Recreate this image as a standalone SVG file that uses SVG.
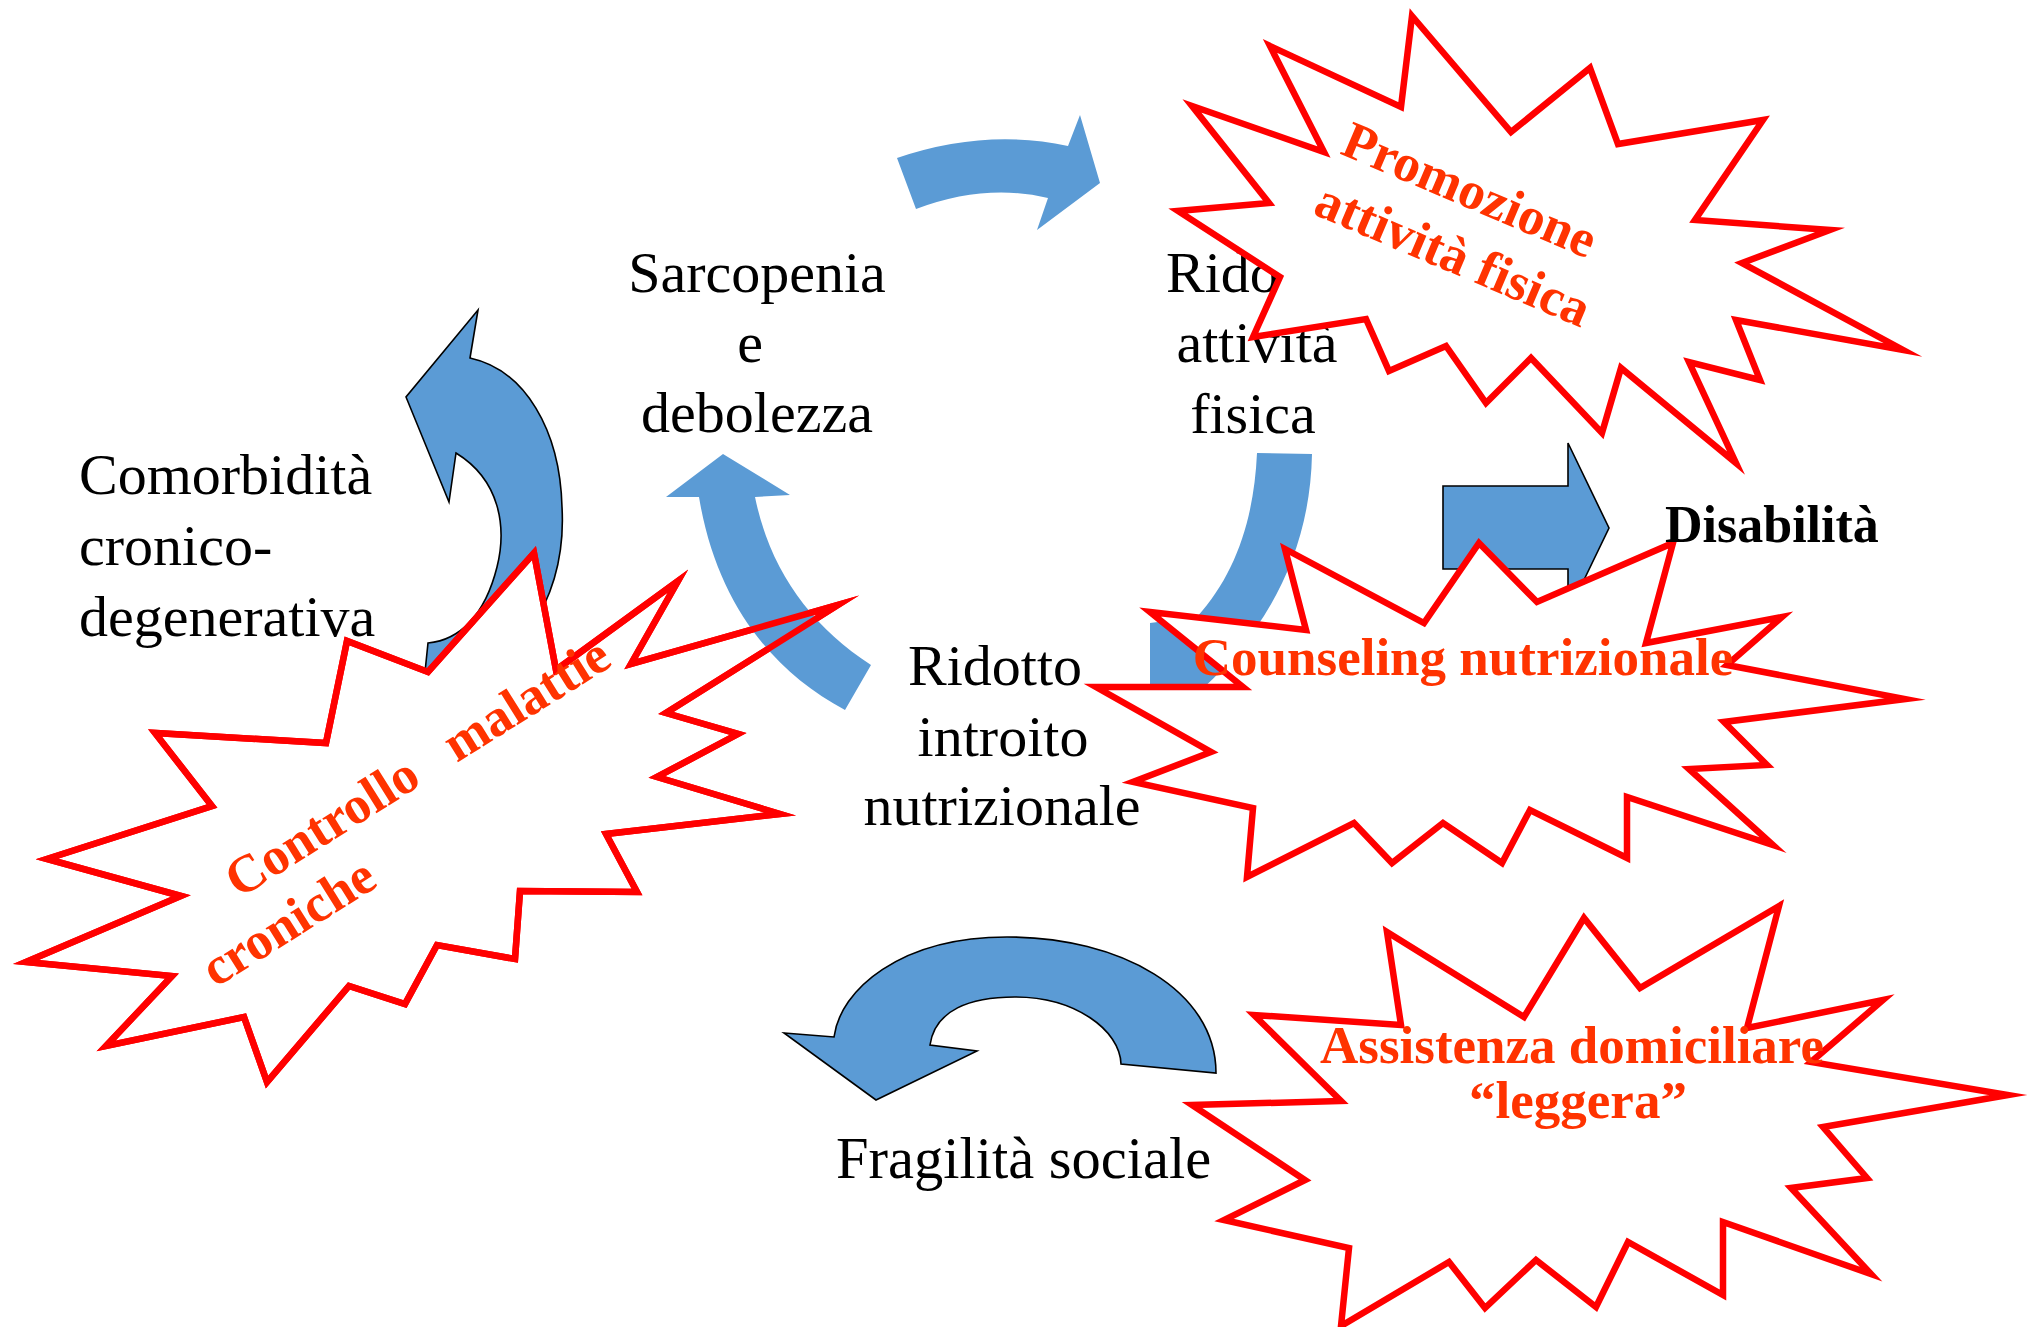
<svg xmlns="http://www.w3.org/2000/svg" width="2028" height="1327" viewBox="0 0 2028 1327">
<style>
.blue{fill:#5B9BD5;stroke:none}
.blueo{fill:#5B9BD5;stroke:#000;stroke-width:1.6;stroke-linejoin:miter}
.star{fill:#fff;stroke:#FF0000;stroke-width:6.5;stroke-linejoin:miter;stroke-miterlimit:12}
.starline{fill:none;stroke:#FF0000;stroke-width:6.5;stroke-linejoin:miter;stroke-miterlimit:12}
.lbl{font-family:"Liberation Serif","Times New Roman",serif;font-size:58px;fill:#000}
.red{font-family:"Liberation Serif","Times New Roman",serif;font-size:53px;font-weight:bold;fill:#FF3300}
.bold{font-family:"Liberation Serif","Times New Roman",serif;font-size:52px;font-weight:bold;fill:#000}
</style>
<rect width="2028" height="1327" fill="#fff"/>
<g id="connectors">
<path id="arrow-top" class="blue" d="M897,158 Q985,128 1068,146 L1080,115 L1100,183 L1037,230 L1048,198 Q985,183 916,209 Z"/>
<path id="arrow-right" class="blue" d="M1257,453 L1312,454 C1310,560 1260,640 1190,700 L1150,700 L1150,623 L1197,617 C1235,575 1254,520 1257,453 Z"/>
<path id="arrow-disab" class="blueo" d="M1443,486 L1568,486 L1568,443 L1609,528 L1568,613 L1568,569 L1443,569 Z"/>
<path id="arrow-comorb" class="blueo" d="M478,310 L470,358 C525,370 560,430 562,507 C565,560 550,600 530,630 C510,655 470,668 425,672 L428,643 C460,640 485,615 497,567 C507,527 500,480 456,453 L449,502 L406,397 Z"/>
<path id="arrow-fragil" class="blueo" d="M1216,1073 C1216,990 1120,937 1007,937 C900,937 840,990 834,1037 L784,1033 L876,1100 L977,1051 L930,1045 C935,1010 970,997 1015,997 C1075,997 1120,1030 1121,1064 Z"/>
</g>
<g id="node-comorbidita">
<text class="lbl" x="79" y="494">Comorbidità</text>
<text class="lbl" x="79" y="565">cronico-</text>
<text class="lbl" x="79" y="636">degenerativa</text>
</g>
<g id="node-sarcopenia" text-anchor="middle">
<text class="lbl" x="757" y="292">Sarcopenia</text>
<text class="lbl" x="750" y="362">e</text>
<text class="lbl" x="757" y="432">debolezza</text>
</g>
<g id="node-ridotto-attivita" text-anchor="middle">
<text class="lbl" x="1253" y="292">Ridotto</text>
<text class="lbl" x="1257" y="362">attività</text>
<text class="lbl" x="1253" y="433">fisica</text>
</g>
<g id="node-ridotto-introito" text-anchor="middle">
<text class="lbl" x="995" y="685">Ridotto</text>
<text class="lbl" x="1003" y="756">introito</text>
<text class="lbl" x="1002" y="825">nutrizionale</text>
</g>
<g id="node-fragilita">
<text class="lbl" x="836" y="1178" style="font-size:58.5px">Fragilità sociale</text>
</g>
<g id="star-promozione">
<polygon class="star" points="1412,16 1511,132 1590,68 1618,144 1763,120 1695,220 1830,230 1742,263 1903,350 1736,320 1760,380 1689,362 1736,463 1621,368 1602,433 1531,358 1486,403 1446,346 1389,371 1366,319 1253,337 1280,277 1178,211 1269,203 1192,106 1324,152 1270,46 1401,107"/>
<g transform="translate(1463,206) rotate(23)" text-anchor="middle">
<text class="red" x="0" y="0">Promozione</text>
<text class="red" x="10" y="66">attività fisica</text>
</g>
</g>
<g id="star-counseling">
<polygon class="star" points="1150,612 1306,630 1285,549 1424,623 1479,543 1537,602 1673,543 1646,643 1782,617 1727,665 1905,699 1724,722 1767,765 1689,769 1773,845 1627,797 1627,858 1530,810 1502,863 1443,823 1392,863 1354,823 1247,877 1253,808 1133,782 1211,752 1096,687 1243,687"/>
<text class="red" x="1463" y="675" text-anchor="middle">Counseling nutrizionale</text>
</g>
<g id="star-assistenza">
<polygon class="star" points="1387,932 1524,1017 1584,918 1640,988 1779,906 1747,1028 1883,1000 1811,1062 2008,1095 1823,1127 1867,1178 1791,1188 1871,1274 1723,1222 1723,1295 1628,1242 1596,1307 1536,1260 1485,1308 1449,1262 1341,1326 1349,1248 1224,1220 1305,1180 1192,1105 1341,1101 1254,1015 1401,1025"/>
<text class="red" x="1572" y="1063" text-anchor="middle">Assistenza domiciliare</text>
<text class="red" x="1578" y="1118" text-anchor="middle">“leggera”</text>
</g>
<g id="star-controllo">
<polygon class="star" points="534,553 556,670 678,581 631,664 838,605 666,713 738,734 657,777 780,814 606,834 637,892 520,891 515,959 437,945 405,1004 349,986 267,1082 244,1017 106,1046 172,976 26,962 181,896 47,859 212,806 155,733 326,743 347,641 428,672"/>
</g>
<path id="arrow-introito-sarcopenia" class="blue" d="M845,710 C770,670 716,600 699,497 L666,497 L723,454 L790,495 L755,497 C770,570 810,625 871,665 Z"/>
<g id="star-controllo-outline">
<polygon class="starline" points="534,553 556,670 678,581 631,664 838,605 666,713 738,734 657,777 780,814 606,834 637,892 520,891 515,959 437,945 405,1004 349,986 267,1082 244,1017 106,1046 172,976 26,962 181,896 47,859 212,806 155,733 326,743 347,641 428,672"/>
<g transform="translate(239,899) rotate(-32)">
<text class="red" x="0" y="0" xml:space="preserve">Controllo   malattie</text>
<text class="red" x="-67" y="63">croniche</text>
</g>
</g>
<g id="node-disabilita">
<text class="bold" x="1665" y="542">Disabilità</text>
</g>
</svg>
